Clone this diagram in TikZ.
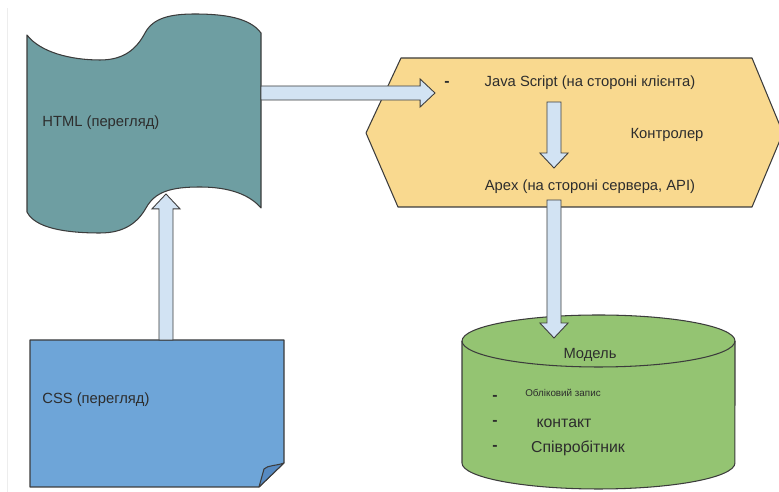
\documentclass[tikz,border=0pt]{standalone}
\usepackage{fontspec}
\setmainfont{Liberation Sans}
\usetikzlibrary{calc}

\definecolor{htmlfill}{RGB}{110,158,162}
\definecolor{ctrlfill}{RGB}{249,217,143}
\definecolor{modelfill}{RGB}{148,196,114}
\definecolor{cssfill}{RGB}{110,165,216}
\definecolor{foldfill}{RGB}{86,138,194}
\definecolor{arrowfill}{RGB}{210,227,243}
\definecolor{edgegray}{RGB}{60,60,60}
\definecolor{txtgray}{RGB}{45,45,45}

\begin{document}
\begin{tikzpicture}[x=0.02cm,y=-0.02cm,
		shapeline/.style={draw=edgegray,line width=0.6pt,line join=round},
		lbl/.style={text=txtgray,inner sep=0pt,font=\fontsize{8.4}{10}\selectfont},
		item/.style={text=txtgray,inner sep=0pt,font=\fontsize{9}{11}\selectfont},
		tinylbl/.style={text=txtgray,inner sep=0pt,font=\fontsize{5.6}{7}\selectfont},
		dashmark/.style={text=txtgray,inner sep=0pt,font=\fontsize{9}{10}\selectfont\bfseries},
		dbarc/.style={x radius=2.73cm,y radius=0.52cm},
		fat/.style={fill=arrowfill,draw=edgegray,line width=0.5pt,line join=miter,
			to path={let \p1=(\tikztostart),\p2=(\tikztotarget),
				\n1={veclen(\x2-\x1,\y2-\y1)},\n2={(\x2-\x1)/\n1},\n3={(\y2-\y1)/\n1} in
				({\x1-(\n3)*4pt},{\y1+(\n2)*4pt})
				-- ({\x2-(\n2)*8.5pt-(\n3)*4pt},{\y2-(\n3)*8.5pt+(\n2)*4pt})
				-- ({\x2-(\n2)*8.5pt-(\n3)*8pt},{\y2-(\n3)*8.5pt+(\n2)*8pt})
				-- (\p2)
				-- ({\x2-(\n2)*8.5pt+(\n3)*8pt},{\y2-(\n3)*8.5pt-(\n2)*8pt})
				-- ({\x2-(\n2)*8.5pt+(\n3)*4pt},{\y2-(\n3)*8.5pt-(\n2)*4pt})
				-- ({\x1+(\n3)*4pt},{\y1-(\n2)*4pt}) -- cycle}}]
			\useasboundingbox (0,0) rectangle (779,492);
			\draw[black!7] (7,8) -- (7,492);
			
			\path[shapeline,fill=htmlfill] (27,35) .. controls (40,52) and (70,60) .. (100,60)
				.. controls (125,60) and (137,48) .. (145,33) .. controls (153,18) and (170,14) .. (195,14)
				.. controls (225,14) and (250,18) .. (261,33) -- (261,208)
				.. controls (250,195) and (230,187) .. (200,187) .. controls (170,187) and (155,192) .. (146,208)
				.. controls (138,222) and (125,233) .. (100,233) .. controls (65,233) and (35,228) .. (27,212) -- cycle;
			\path[shapeline,fill=ctrlfill] (401,58) -- (752,58) -- (783,133) -- (752,207) -- (398,207) -- (366,133) -- cycle;
			\path[shapeline,fill=cssfill] (30,340) -- (284,340) -- (284,463) -- (259,487) -- (30,487) -- cycle;
			\path[shapeline,fill=foldfill] (284,463) .. controls (276,466) and (268,465) .. (264,469) -- (259,487) -- cycle;
			\path[shapeline,fill=modelfill] (462,341) -- (462,463) arc[start angle=180,end angle=360,dbarc]
				-- (735,341) arc[start angle=0,end angle=180,dbarc] -- cycle;
			\draw[shapeline] (462,341) arc[start angle=180,end angle=360,dbarc];
			
			\node[lbl,anchor=west] (html) at (42,123) {HTML (перегляд)};
			\node[lbl,anchor=west] (css) at (42,400) {CSS (перегляд)};
			\node[dashmark] (js-dash) at (447,84) {-};
			\node[lbl] (js) at (590,83) {Java Script (на стороні клієнта)};
			\node[lbl] (ctrl) at (667,135) {Контролер};
			\node[lbl] (apex) at (590,187) {Apex (на стороні сервера, API)};
			\node[lbl] (model) at (590,355) {Модель};
			\node[dashmark] (dash1) at (495,398) {-};
			\node[dashmark] (dash2) at (495,423) {-};
			\node[dashmark] (dash3) at (495,448) {-};
			\node[tinylbl] (acc) at (563,393) {Обліковий запис};
			\node[item] (contact) at (564,423) {контакт};
			\node[item] (empl) at (578,448) {Співробітник};
			
			\coordinate (html-e) at (261,93);
			\coordinate (html-s) at (166,194);
			\coordinate (css-n) at (166,340);
			\coordinate (js-w) at (435,93);
			\coordinate (js-s) at (554,102);
			\coordinate (apex-n) at (554,168);
			\coordinate (ctrl-s) at (554,200);
			\coordinate (db-n) at (554,338);
			
			\path (html-e) edge[fat] (js-w);
			\path (css-n) edge[fat] (html-s);
			\path (js-s) edge[fat] (apex-n);
			\path (ctrl-s) edge[fat] (db-n);
		\end{tikzpicture}
\end{document}
